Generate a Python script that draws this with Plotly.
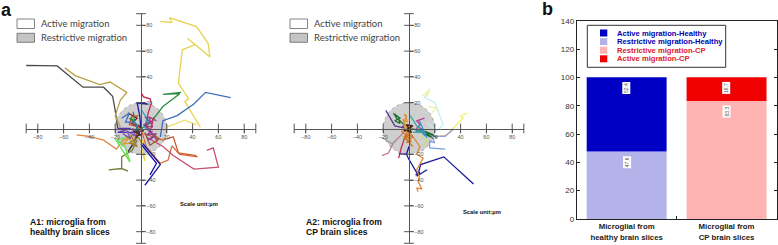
import plotly.graph_objects as go

W, H = 778, 245
PX = 1.29  # pixels per micrometre in panels A1/A2


def fx(px):
    return px / W


def fy(py):
    return 1 - py / H


# ---- data -----------------------------------------------------------------
tick_values = [-80, -60, -40, -20, 20, 40, 60, 80]
cap_values = [-89, 89]
restrictive_radius = 20

a1_tracks = [
    [(-103, 39), (-89, 49), (-65, 48.5), (-45, 32), (-29, 32), (-22, 25), (-20, 14), (-18, 0)],
    [(-59, 47), (-51, 41), (-32, 34), (-24, 36), (-11, 28), (-16, 22), (-20, 10), (-16, 1)],
    [(15, 83), (24, 82), (22, 86), (43, 79), (52, 66), (53.5, 55.5), (36, 70), (42, 65), (32, 61),
     (29, 35), (37, 23), (34, 21), (46, 1)],
    [(20, 1), (34, 6.5), (43, 3)],
    [(69.5, 24), (50, 28), (41, 19), (28, 10), (17, 6), (15, -6.5)],
    [(31, 28), (17, 26.5), (30, 27), (17, 17), (7, 4), (0, 0)],
    [(-50, -5), (-41, -6), (-29, -9), (-19, -16), (-14, -9), (-6, -6.5)],
    [(44, -22), (30, -20), (24, -13.5), (21, -24.5), (15, -27), (4, -14), (0, 0)],
    [(43, -21), (29, -19), (25, -6.5), (17, -9), (2, -4)],
    [(51, -17), (56, -15), (60, -30), (41, -31.5), (25, -21), (17, -14), (4, -6.5)],
    [(0, -10), (15, -28), (3, -44)],
    [(0, -12), (12, -27), (7, -36)],
    [(-25, -32), (-15, -31), (-10, -33), (-15, -31), (-15, -22), (-7, -17), (-3, -9)],
    [(-20, -8), (-8.5, -26), (-12.5, -14), (-19, -9), (-5, -5)],
    [(0.5, 27), (2, 24.5), (7, 23), (8, 19.5), (5.5, 12), (4, 0)],
    [(-2, 19.5), (5, 19), (-3, 20), (-1, 10), (0, 0)],
    [(0.5, 14), (4.5, 8), (3, 1), (6, -2)],
    [(-10, 12), (-3, 8), (-7, 4), (-2, 1)],
    [(-2, 10), (-7, 9), (-9, 3), (-1, 1), (-5, -8)],
    [(-18, 0), (-8, 0), (-18, -3), (-1, -3)],
    [(7, -9), (12, -4), (4, -5), (9, -2)],
    [(10, 9), (8, 1), (6, -3)],
    [(-6, -12), (-10, -18), (-1, -3)],
    [(2, -19), (3, -25), (0, -14), (2, -8)],
    [(-12, -6), (-5, -11), (-14, -12), (-3, -2)],
    [(9, -4), (14, -8), (7, -13), (3, -3)],
    [(-14, -4), (-8, -8), (-11, -2), (-4, -6), (-7, 0), (-1, -2)],
    [(-6, 13), (-5, 6), (-9, 8), (-3, 3), (-4, -2)],
    [(-15, 8), (-9, 12), (-12, 5), (-5, 5), (-2, -1)],
    [(3, 9), (7, 5), (2, 3), (6, 0), (10, -6), (5, -9)],
    [(-8, -5), (-3, -14), (-9, -11), (-2, -7), (1, -12)],
    [(12, 6), (6, 9), (9, 1), (4, 2), (13, -10)],
    [(-4, -6), (0, -5), (-6, -2), (2, -2), (-2, 3)],
]
a1_colors = [
    "#4a4a4a", "#b9a146", "#e8d24f", "#efdf6b", "#3a70bd", "#2f8c3e", "#e08a4a", "#d9683a",
    "#cf5c34", "#c9506f", "#1414a8", "#1414a8", "#6f7f3a", "#63e04d", "#c8204a", "#1a1aa0",
    "#3a9fd0", "#7a2020", "#c0452a", "#6030b0", "#8a3fb0", "#c0307a", "#303030", "#e8d24f",
    "#d0a030", "#9a5a30", "#7a50c0", "#2f8c3e", "#3a70bd", "#6a4a9a", "#a08030", "#a03a70",
    "#403030",
]

a2_tracks = [
    [(50, -43), (27, -22), (9, -28), (7, -36), (0, -24), (-2, -20), (-8, -19.5)],
    [(14, -32), (6, -37), (8.5, -34), (5, -36)],
    [(0, -14), (-2, -20)],
    [(7, -49), (6, -46), (10, -47), (7, -41), (8, -37), (6, -32), (11, -23), (6, -20), (8.5, -14), (2, -5), (0, -1)],
    [(16, 31), (12, 24), (20, 20), (26.5, 3), (21.5, -2), (14, 4.4)],
    [(10, 25), (16, 30), (14, 24)],
    [(15, 17), (21.5, 16), (17.5, 12)],
    [(45, 12), (40, 9.5), (42, 8), (37, 3), (29, -5), (24, -6)],
    [(34, -1), (28, -6), (19, -6)],
    [(28, -16), (16, -15), (16, -10), (20, -11), (17.5, -6), (11, -5)],
    [(-12, 12), (-9, 7), (-11, 11), (-7, 8), (-11, 6), (-7, 4), (-8, 7), (-4, 3), (0, 0)],
    [(21.5, -7), (14, -3), (19, -5), (12, -2), (17.5, -7), (10, -3), (14, -6), (8.5, -2), (2, 0)],
    [(-18, 14), (-11, 2), (-4, 0.5)],
    [(12, 8), (6, 6), (8.5, 3), (5, -1)],
    [(-21, -21), (-16, -19), (-12, -11), (-4, -3)],
    [(-8, -23), (-6, -15), (-3, -6), (-0.5, -2)],
    [(-4, 11), (-2, 10), (-4, 4), (-2, 1)],
    [(-6, -2), (1, -8), (-4, -6), (3, -14)],
    [(-21, -7), (-13, -12), (-10, -9)],
    [(1, 10), (6, 2), (11, -3), (3, -3)],
    [(11, -14), (14, -9), (9, -6)],
    [(-5, 2), (-2, -2), (2, 2), (-1, -3)],
    [(-3, 10), (-1, 5), (-5, 7), (-2, 2), (-5, -1), (-1, -4), (-3, 1), (1, 1)],
    [(-3, -5), (3, -6), (-2, -11), (2, -10), (-4, -8), (1, -3)],
    [(8, 6), (12, -3), (7, 2), (14, -7), (10, 0), (5, -3)],
    [(-4, -2), (3, 2), (-2, 3), (2, -3), (-3, -1), (1, 0)],
]
a2_colors = [
    "#1a1a9a", "#1a1a9a", "#1a1a9a", "#e08a3a", "#c4ecf0", "#f2f2a0", "#eef2a8", "#eef060",
    "#9a9ad8", "#7aa0e0", "#1f6f2f", "#1f6f2f", "#5a3a9a", "#c03a9a", "#c07a90", "#c02a5a",
    "#d98a30", "#c9782a", "#9a9a9a", "#30b0a0", "#c8e070", "#4a2a1a", "#e09a3a", "#c9782a",
    "#3a90c8", "#402018",
]

bar_categories = ["Microglial from<br>healthy brain slices", "Microglial from<br>CP brain slices"]
bar_series = [
    "Restrictive migration-Healthy",
    "Active migration-Healthy",
    "Restrictive migration-CP",
    "Active migration-CP",
]
bar_positions = [0, 0, 1, 1]
bar_values = [47.6, 52.4, 83.3, 16.7]
bar_bases = [0, 47.6, 0, 83.3]
bar_colors = ["#b3b3ea", "#0000c4", "#ffb3b3", "#f00000"]
bar_ticks = [0, 20, 40, 60, 80, 100, 120, 140]

legend_order = [1, 0, 2, 3]
legend_text_colors = ["#0000b0", "#0000b0", "#e0202a", "#e0202a"]

# ---- figure ---------------------------------------------------------------
fig = go.Figure()
AXC = "#555555"


def track_traces(tracks, colors, xa, ya):
    for t, c in zip(tracks, colors):
        fig.add_trace(go.Scatter(
            x=[p[0] for p in t], y=[p[1] for p in t], mode="lines",
            line=dict(color=c, width=1.3), xaxis=xa, yaxis=ya,
            cliponaxis=False, showlegend=False, hoverinfo="skip"))
    marks = tick_values + cap_values
    fig.add_trace(go.Scatter(
        x=marks, y=[0] * len(marks), mode="markers", xaxis=xa, yaxis=ya, cliponaxis=False,
        marker=dict(symbol="line-ns", size=7, line=dict(color=AXC, width=1)),
        showlegend=False, hoverinfo="skip"))
    fig.add_trace(go.Scatter(
        x=[0] * len(marks), y=marks, mode="markers", xaxis=xa, yaxis=ya, cliponaxis=False,
        marker=dict(symbol="line-ew", size=7, line=dict(color=AXC, width=1)),
        showlegend=False, hoverinfo="skip"))


track_traces(a1_tracks, a1_colors, "x", "y")
track_traces(a2_tracks, a2_colors, "x2", "y2")

for i in range(len(bar_series)):
    fig.add_trace(go.Bar(
        x=[bar_positions[i]], y=[bar_values[i]], base=[bar_bases[i]], width=0.8,
        marker=dict(color=bar_colors[i], line=dict(width=0)), name=bar_series[i],
        xaxis="x3", yaxis="y3", showlegend=False))

layout = dict(
    width=W, height=H, margin=dict(l=0, r=0, t=0, b=0, autoexpand=False), paper_bgcolor="white",
    plot_bgcolor="rgba(0,0,0,0)", barmode="overlay", showlegend=False,
    font=dict(family="Liberation Sans", color="#222222"),
)


def panel_axes(cx, cy=128.5):
    half = 89 * PX
    xa = dict(domain=[fx(cx - half), fx(cx + half)], range=[-89, 89], anchor="free",
              position=fy(cy), showline=True, linecolor=AXC, linewidth=1.2, showgrid=False,
              zeroline=False, tickvals=tick_values, ticks="outside", ticklen=3, tickwidth=1,
              tickcolor=AXC, tickfont=dict(size=5.5, color="#555555"), fixedrange=True)
    ya = dict(domain=[fy(cy + half), fy(cy - half)], range=[-89, 89], anchor="free",
              position=fx(cx), side="right", showline=True, linecolor=AXC, linewidth=1.2,
              showgrid=False, zeroline=False, tickvals=tick_values, ticks="outside", ticklen=3,
              tickwidth=1, tickcolor=AXC, tickfont=dict(size=5.5, color="#555555"), fixedrange=True)
    return xa, ya


layout["xaxis"], layout["yaxis"] = panel_axes(141)
layout["xaxis2"], layout["yaxis2"] = panel_axes(409)
layout["xaxis3"] = dict(
    domain=[fx(576.7), fx(776.5)], range=[-0.5, 1.5], anchor="y3", showline=True, linecolor="#222222",
    linewidth=1, mirror=True, showgrid=False, zeroline=False, tickvals=[0, 1], ticktext=bar_categories,
    ticks="", tickfont=dict(size=7.8, color="#222222", weight="bold"),
    minor=dict(tickvals=[0.5], ticks="inside", ticklen=3, tickcolor="#222222", tickwidth=1),
)
layout["yaxis3"] = dict(
    domain=[fy(219), fy(20.7)], range=[0, 140], anchor="x3", showline=True, linecolor="#222222",
    linewidth=1, mirror="ticks", showgrid=False, zeroline=False, tickvals=bar_ticks, ticks="inside",
    ticklen=3, tickcolor="#222222", tickfont=dict(size=8, color="#333333"),
)

shapes = []
for xr, yr in (("x", "y"), ("x2", "y2")):
    shapes.append(dict(type="circle", xref=xr, yref=yr, x0=-restrictive_radius, x1=restrictive_radius,
                       y0=-restrictive_radius, y1=restrictive_radius, layer="below",
                       fillcolor="#cfcfcf", line=dict(color="#9a9a9a", width=0.8, dash="dot")))

annotations = []


def text(x, y, s, size, color="#222222", bold=False, family="Liberation Sans", anchor="left"):
    annotations.append(dict(
        xref="paper", yref="paper", x=fx(x), y=fy(y), text=s, showarrow=False, xanchor=anchor,
        yanchor="middle", align="left", borderpad=0, borderwidth=0,
        font=dict(size=size, color=color, family=family, weight="bold" if bold else "normal")))


# key boxes of the two trajectory panels
for left in (17, 290):
    tleft = left + 23.5
    shapes.append(dict(type="rect", xref="paper", yref="paper", x0=fx(left), x1=fx(left + 17.5),
                       y0=fy(28.5), y1=fy(19), line=dict(color="#666666", width=0.8), fillcolor="white"))
    shapes.append(dict(type="rect", xref="paper", yref="paper", x0=fx(left), x1=fx(left + 17.5),
                       y0=fy(42.3), y1=fy(33.3), line=dict(color="#666666", width=0.8), fillcolor="#c4c4c4"))
    text(tleft, 24, "Active migration", 9.5, "#444444", family="Lato")
    text(tleft, 38, "Restrictive migration", 9.5, "#444444", family="Lato")

text(1, 10, "a", 18, "#111111", True)
text(542, 9, "b", 18, "#111111", True)
text(30, 221.5, "A1: microglia from", 8.6, "#111111", True)
text(30, 231.5, "healthy brain slices", 8.6, "#111111", True)
text(305.5, 221.5, "A2: microglia from", 8.6, "#111111", True)
text(305.5, 231.5, "CP brain slices", 8.6, "#111111", True)
text(180, 204, "Scale unit:µm", 5.8, "#111111", True)
text(463, 212, "Scale unit:µm", 5.8, "#111111", True)

# bar value tags
for i in range(len(bar_series)):
    annotations.append(dict(
        xref="x3", yref="y3", x=bar_positions[i], y=bar_bases[i] + bar_values[i], yshift=-4,
        yanchor="top", xanchor="center", text=f"{bar_values[i]:.1f}", textangle=-90, showarrow=False,
        bgcolor="white", borderpad=0.5, font=dict(size=5, color="#555555")))

# key of panel b
shapes.append(dict(type="rect", xref="paper", yref="paper", x0=fx(587.3), x1=fx(725.7), y0=fy(67.3),
                   y1=fy(25.3), line=dict(color="#333333", width=1), fillcolor="white"))
for row, i in enumerate(legend_order):
    ky = 33 + row * 8.6
    shapes.append(dict(type="rect", xref="paper", yref="paper", x0=fx(600), x1=fx(607.3),
                       y0=fy(ky + 3.5), y1=fy(ky - 3.5), line=dict(width=0), fillcolor=bar_colors[i]))
    text(616.5, ky, bar_series[i], 7.6, legend_text_colors[row], True)

layout["shapes"] = shapes
layout["annotations"] = annotations
fig.update_layout(**layout)
fig.write_html("out.html", config={"displayModeBar": False},
               post_script="document.body.style.margin='0';document.documentElement.style.overflow='hidden';")
